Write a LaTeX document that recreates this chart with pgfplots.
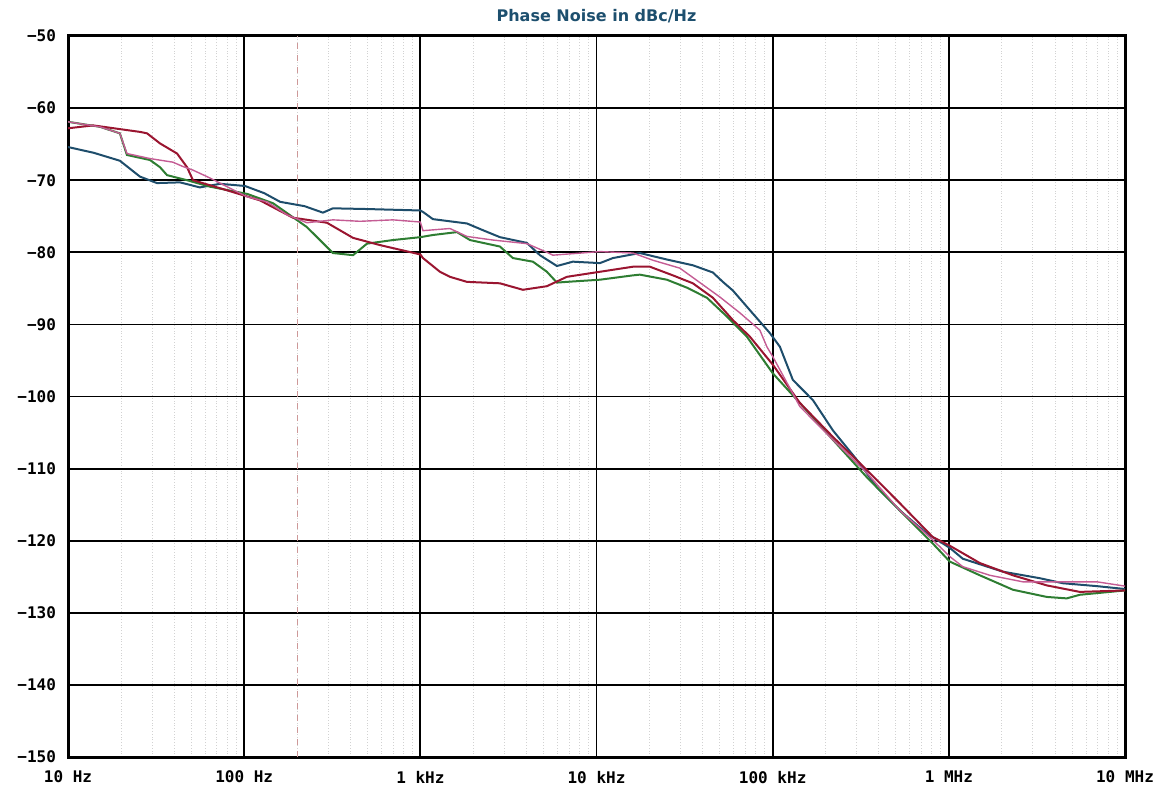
\documentclass[border=0pt]{standalone}
\usepackage{pgfplots}
\pgfplotsset{compat=1.18}
\usepackage{fontspec}
\setmainfont{DejaVu Sans}
\newfontfamily\tickfont{DejaVu Sans Mono}

\definecolor{trblue}{HTML}{1E4D6B}
\definecolor{trred}{HTML}{9A1530}
\definecolor{trgreen}{HTML}{2E7D32}
\definecolor{trpink}{HTML}{C45C94}
\definecolor{titleblue}{HTML}{1D4F6E}

\begin{document}
\begin{tikzpicture}
  \useasboundingbox (-34pt,-16pt) rectangle (544.5pt,378.5pt);
  \begin{axis}[
      scale only axis,
      width  = 528.5pt,
      height = 360.5pt,
      xmode  = log,
      xmin = 10, xmax = 1e7,
      ymin = -150, ymax = -50,
      ytick = {-150,-140,...,-50},
      yticklabels = {−150,−140,−130,−120,−110,−100,−90,−80,−70,−60,−50},
      xtick = {10,100,1000,10000,100000,1000000,10000000},
      xticklabels = {10 Hz,100 Hz,1 kHz,10 kHz,100 kHz,1 MHz,10 MHz},
      major tick length = 0pt,
      minor tick length = 0pt,
      tick label style = {font=\tickfont\bfseries\fontsize{8}{9}\selectfont, text=black},
      yticklabel style = {xshift=-2.5pt},
      xticklabel style = {yshift=-3.5pt},
      axis line style = {line width=1.5pt},
      xmajorgrids, ymajorgrids, xminorgrids,
      major grid style = {black, line width=0.9pt},
      minor grid style = {gray!35, line width=0.4pt, densely dotted},
      title = {\bfseries\fontsize{8}{9}\selectfont Phase Noise in dBc/Hz},
      title style = {text=titleblue, yshift=-3pt},
      clip = true,
    ]
    % dashed marker near 200 Hz
    \addplot[draw=red!35!gray!60, dashed, line width=0.5pt] coordinates {(202,-150)(202,-50)};

    % blue trace
    \addplot[trblue, line width=1pt] coordinates {
      (10,-65.4)(14,-66.2)(19.7,-67.3)(25.6,-69.5)(32,-70.4)(43.2,-70.3)(56.1,-71)
      (72.9,-70.5)(101,-70.8)(130,-71.8)(160,-73)(220,-73.6)(280,-74.5)(319,-73.9)
      (500,-74)(1000,-74.2)(1035,-74.4)(1179,-75.4)(1839,-76)(2300,-77)(2830,-77.9)
      (4027,-78.7)(4773,-80.4)(5962,-81.9)(7345,-81.3)(10460,-81.5)(12390,-80.8)
      (17630,-80.1)(25080,-81)(35240,-81.8)(45770,-82.8)(52150,-84.1)(59440,-85.3)
      (77200,-88.5)(96400,-91.2)(109900,-93.1)(130200,-97.7)(169200,-100.5)
      (219700,-104.7)(312500,-109.3)(390400,-112.6)(527000,-115.8)(750400,-119)
      (1.013e6,-121)(1.2e6,-122.5)(2.03e6,-124.3)(3.28e6,-125.2)(4.44e6,-125.9)
      (6.92e6,-126.3)(1e7,-126.7)
    };

    % green trace
    \addplot[trgreen, line width=1pt] coordinates {
      (10,-61.9)(15.2,-62.6)(19.7,-63.5)(21.6,-66.5)(29.2,-67.2)(33.3,-68.2)
      (36.5,-69.3)(47.4,-70)(64,-70.9)(104,-71.9)(146,-73.2)(227,-76.5)(319,-80.1)
      (415,-80.4)(498,-78.8)(699,-78.3)(1000,-77.9)(1179,-77.6)(1614,-77.2)
      (1912,-78.3)(2830,-79.2)(3354,-80.8)(4355,-81.3)(5229,-82.7)(5962,-84.2)
      (6792,-84.1)(10460,-83.8)(16090,-83.2)(17630,-83.1)(25080,-83.8)(32590,-84.9)
      (42320,-86.3)(54960,-88.9)(71380,-91.7)(100300,-96.8)(142700,-100.9)
      (219700,-106)(342400,-111.2)(527000,-115.8)(811500,-120.4)(1.013e6,-122.9)
      (1.5e6,-124.8)(2.31e6,-126.8)(3.6e6,-127.8)(4.67e6,-128)(5.54e6,-127.5)
      (1e7,-126.9)
    };

    % red trace
    \addplot[trred, line width=1pt] coordinates {
      (10,-62.8)(13.9,-62.4)(25.6,-63.3)(28.1,-63.5)(33.3,-64.9)(41.6,-66.3)
      (47.4,-68.2)(51.2,-70)(79.9,-71.4)(123,-72.8)(189,-75.2)(295,-75.9)(415,-78)
      (590,-79)(1000,-80.3)(1035,-80.8)(1292,-82.7)(1472,-83.4)(1839,-84.1)
      (2830,-84.3)(3821,-85.2)(5229,-84.7)(6792,-83.4)(10460,-82.7)(16090,-82)
      (20100,-82)(27140,-83.2)(35240,-84.3)(45770,-86.3)(59440,-89.4)(74240,-91.7)
      (100300,-95.6)(142700,-100.9)(219700,-105.6)(342400,-110.2)(527000,-114.8)
      (811500,-119.5)(1.013e6,-120.7)(1.5e6,-123.1)(2.31e6,-124.8)(3.6e6,-126.2)
      (5.54e6,-127.1)(1e7,-126.9)
    };

    % pink trace
    \addplot[trpink, line width=0.7pt] coordinates {
      (10,-61.9)(15.2,-62.6)(19.7,-63.5)(21.6,-66.3)(29.2,-67)(39.4,-67.5)
      (44.9,-68.1)(51.2,-68.6)(64,-69.7)(79.9,-70.9)(104,-72.3)(135,-73)
      (175,-74.8)(227,-75.9)(319,-75.5)(454,-75.7)(699,-75.5)(1000,-75.8)
      (1035,-77)(1472,-76.7)(1839,-77.8)(2582,-78.3)(4027,-78.8)(5229,-80)
      (5656,-80.4)(10460,-79.9)(16090,-80.1)(20900,-81.1)(29740,-82.2)
      (38630,-84.2)(50140,-86.2)(65140,-88.4)(84600,-90.8)(92700,-93.1)
      (100300,-94.5)(142700,-101.4)(219700,-106)(342400,-110.6)(527000,-115.8)
      (811500,-119.9)(1.013e6,-122.2)(1.2e6,-123.6)(1.71e6,-124.8)(2.63e6,-125.7)
      (4.44e6,-125.7)(6.92e6,-125.7)(1e7,-126.3)
    };
  \end{axis}
\end{tikzpicture}
\end{document}
